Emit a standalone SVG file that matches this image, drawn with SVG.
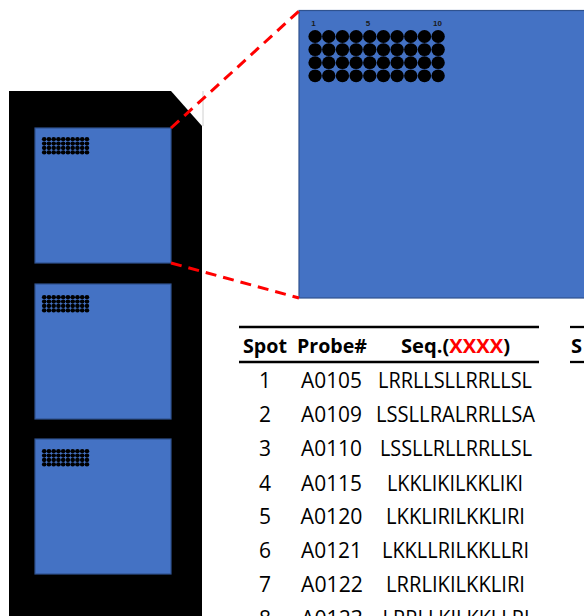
<svg xmlns="http://www.w3.org/2000/svg" xmlns:xlink="http://www.w3.org/1999/xlink" width="584" height="616" viewBox="0 0 584 616">
<style>
.well{fill:#4472C4;stroke:#2F528F;stroke-width:1.2}
.zoom{stroke:#FF0000;stroke-width:3;stroke-dasharray:11 7;fill:none}
.rule{stroke:#000;stroke-width:2.3}
.hd{font-family:"Open Sans","Liberation Sans",sans-serif;font-weight:bold;font-size:20px;fill:#000}
.td{font-family:"Open Sans","Liberation Sans",sans-serif;font-size:21px;fill:#000;text-anchor:middle}
.lbl{font-family:"Liberation Sans",sans-serif;font-weight:bold;font-size:8px;fill:#1a1a1a;text-anchor:middle}
</style>
<defs>
<g id="grid" fill="#000">
<circle cx="0" cy="0" r="4.9"/><circle cx="10" cy="0" r="4.9"/><circle cx="20" cy="0" r="4.9"/><circle cx="30" cy="0" r="4.9"/><circle cx="40" cy="0" r="4.9"/><circle cx="50" cy="0" r="4.9"/><circle cx="60" cy="0" r="4.9"/><circle cx="70" cy="0" r="4.9"/><circle cx="80" cy="0" r="4.9"/><circle cx="90" cy="0" r="4.9"/>
<circle cx="0" cy="10" r="4.9"/><circle cx="10" cy="10" r="4.9"/><circle cx="20" cy="10" r="4.9"/><circle cx="30" cy="10" r="4.9"/><circle cx="40" cy="10" r="4.9"/><circle cx="50" cy="10" r="4.9"/><circle cx="60" cy="10" r="4.9"/><circle cx="70" cy="10" r="4.9"/><circle cx="80" cy="10" r="4.9"/><circle cx="90" cy="10" r="4.9"/>
<circle cx="0" cy="20" r="4.9"/><circle cx="10" cy="20" r="4.9"/><circle cx="20" cy="20" r="4.9"/><circle cx="30" cy="20" r="4.9"/><circle cx="40" cy="20" r="4.9"/><circle cx="50" cy="20" r="4.9"/><circle cx="60" cy="20" r="4.9"/><circle cx="70" cy="20" r="4.9"/><circle cx="80" cy="20" r="4.9"/><circle cx="90" cy="20" r="4.9"/>
<circle cx="0" cy="30" r="4.9"/><circle cx="10" cy="30" r="4.9"/><circle cx="20" cy="30" r="4.9"/><circle cx="30" cy="30" r="4.9"/><circle cx="40" cy="30" r="4.9"/><circle cx="50" cy="30" r="4.9"/><circle cx="60" cy="30" r="4.9"/><circle cx="70" cy="30" r="4.9"/><circle cx="80" cy="30" r="4.9"/><circle cx="90" cy="30" r="4.9"/>
</g>
</defs>

<g id="slide">
<polygon points="9,91 171,91 202,126 202,616 9,616" fill="#000"/>
<line x1="203" y1="91" x2="203" y2="126" stroke="#d0d0d0" stroke-width="1"/>
</g>

<g id="well1">
<rect class="well" x="35" y="128" width="136" height="135"/>
<use xlink:href="#grid" href="#grid" transform="translate(44.2,139.2) scale(0.475,0.44)"/>
</g>
<g id="well2">
<rect class="well" x="35" y="284" width="136" height="135"/>
<use xlink:href="#grid" href="#grid" transform="translate(44.2,297.2) scale(0.475,0.44)"/>
</g>
<g id="well3">
<rect class="well" x="35" y="439" width="136" height="135"/>
<use xlink:href="#grid" href="#grid" transform="translate(44.2,451.2) scale(0.475,0.44)"/>
</g>

<g id="zoomed-well">
<rect class="well" x="299" y="10.5" width="300" height="287.5"/>
<use xlink:href="#grid" href="#grid" transform="translate(315.1,36.5) scale(1.367,1.31)"/>
<text class="lbl" x="313.5" y="26">1</text>
<text class="lbl" x="368" y="26">5</text>
<text class="lbl" x="437.5" y="26">10</text>
</g>

<g id="connectors">
<line class="zoom" x1="171" y1="128" x2="299" y2="11"/>
<line class="zoom" x1="171" y1="263" x2="299" y2="298"/>
</g>

<g id="table">
<line class="rule" x1="239" y1="327" x2="539" y2="327"/>
<line class="rule" x1="239" y1="362" x2="539" y2="362"/>
<text class="hd" x="243" y="353" textLength="44" lengthAdjust="spacingAndGlyphs">Spot</text>
<text class="hd" x="297" y="353" textLength="70" lengthAdjust="spacingAndGlyphs">Probe#</text>
<text class="hd" x="401" y="353" textLength="109" lengthAdjust="spacingAndGlyphs">Seq.(<tspan fill="#FF0000">XXXX</tspan>)</text>

<text class="td" x="265" y="388">1</text>
<text class="td" x="331.5" y="388" textLength="61" lengthAdjust="spacingAndGlyphs">A0105</text>
<text class="td" x="455" y="388" textLength="154" lengthAdjust="spacingAndGlyphs">LRRLLSLLRRLLSL</text>

<text class="td" x="265" y="422">2</text>
<text class="td" x="331.5" y="422" textLength="61" lengthAdjust="spacingAndGlyphs">A0109</text>
<text class="td" x="455.5" y="422" textLength="159" lengthAdjust="spacingAndGlyphs">LSSLLRALRRLLSA</text>

<text class="td" x="265" y="456">3</text>
<text class="td" x="331.5" y="456" textLength="61" lengthAdjust="spacingAndGlyphs">A0110</text>
<text class="td" x="456" y="456" textLength="152" lengthAdjust="spacingAndGlyphs">LSSLLRLLRRLLSL</text>

<text class="td" x="265" y="491">4</text>
<text class="td" x="331.5" y="491" textLength="61" lengthAdjust="spacingAndGlyphs">A0115</text>
<text class="td" x="455" y="491" textLength="136" lengthAdjust="spacingAndGlyphs">LKKLIKILKKLIKI</text>

<text class="td" x="265" y="524">5</text>
<text class="td" x="331.5" y="524" textLength="62" lengthAdjust="spacingAndGlyphs">A0120</text>
<text class="td" x="455.5" y="524" textLength="139" lengthAdjust="spacingAndGlyphs">LKKLIRILKKLIRI</text>

<text class="td" x="265" y="558">6</text>
<text class="td" x="331.5" y="558" textLength="61" lengthAdjust="spacingAndGlyphs">A0121</text>
<text class="td" x="455.5" y="558" textLength="147" lengthAdjust="spacingAndGlyphs">LKKLLRILKKLLRI</text>

<text class="td" x="265" y="592">7</text>
<text class="td" x="332" y="592" textLength="62" lengthAdjust="spacingAndGlyphs">A0122</text>
<text class="td" x="455.5" y="592" textLength="139" lengthAdjust="spacingAndGlyphs">LRRLIKILKKLIRI</text>

<text class="td" x="265" y="626">8</text>
<text class="td" x="332" y="626" textLength="62" lengthAdjust="spacingAndGlyphs">A0123</text>
<text class="td" x="456" y="626" textLength="147" lengthAdjust="spacingAndGlyphs">LRRLLKILKKLLRI</text>
</g>

<g id="table2">
<line class="rule" x1="570" y1="327" x2="584" y2="327"/>
<line class="rule" x1="570" y1="362" x2="584" y2="362"/>
<text class="hd" x="571" y="353">S</text>
</g>
</svg>
